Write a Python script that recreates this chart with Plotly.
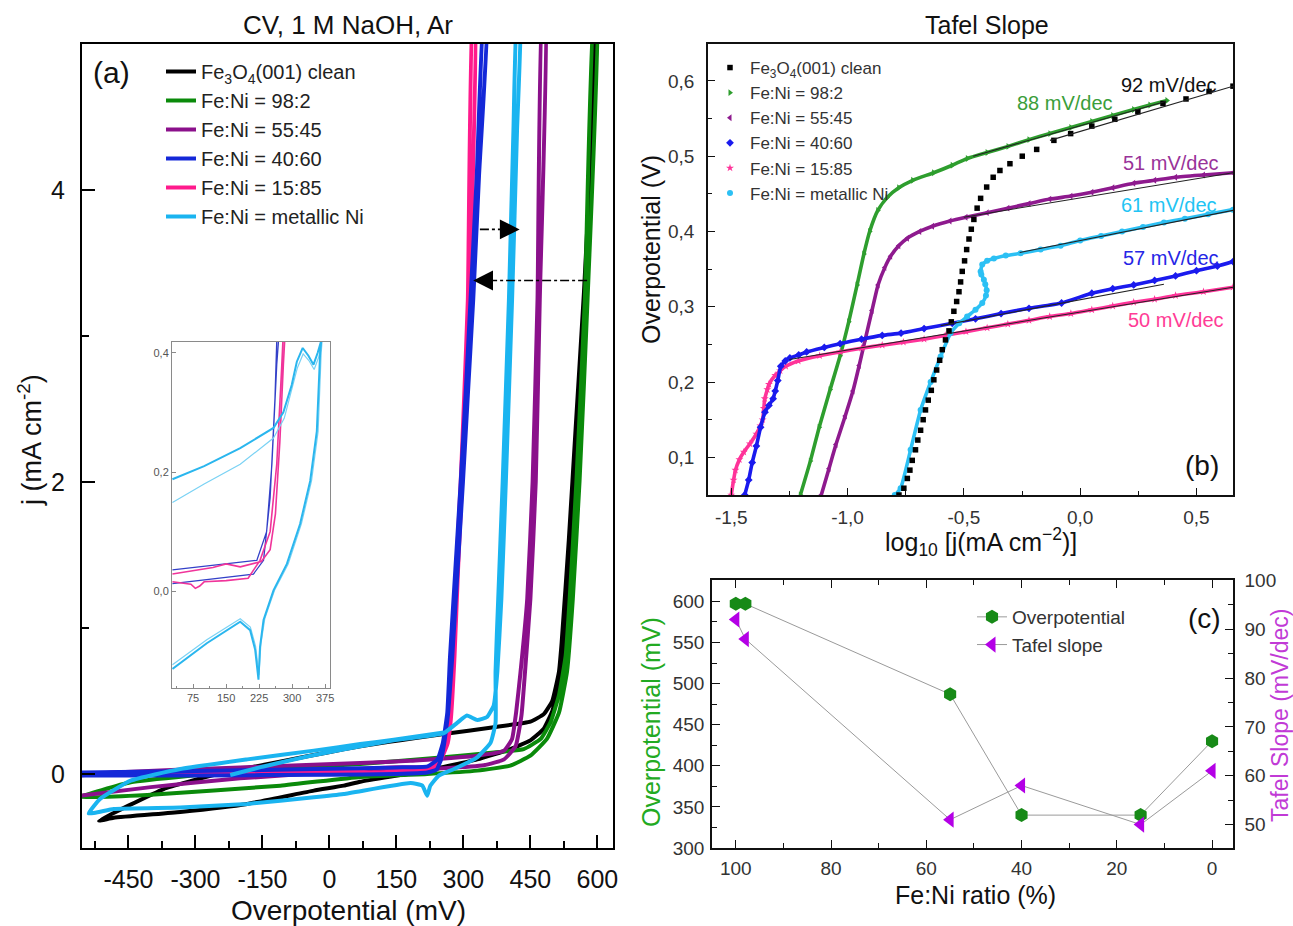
import plotly.graph_objects as go

W, H = 1293, 926
FONT = "Liberation Sans, Arial, sans-serif"

# ---------------- colours ----------------
C_BLACK = "#000000"
C_GREEN = "#0a8a0a"
C_PURPLE = "#8b108b"
C_BLUE = "#1428d8"
C_PINK = "#ff1a8c"
C_CYAN = "#1ab4f0"

# ---------------- Panel (a): CV loops (overpotential mV, j mA cm-2) ----------------
names = ["Fe<sub>3</sub>O<sub>4</sub>(001) clean", "Fe:Ni = 98:2", "Fe:Ni = 55:45",
         "Fe:Ni = 40:60", "Fe:Ni = 15:85", "Fe:Ni = metallic Ni"]

blk_x = [-516, -483, -334, -184, -35, 32, 69, 219, 331, 405, 450, 480, 499, 514, 525, 540, 555, 573, 590, 600,
         597, 588, 570, 552, 536, 520, 514, 499, 480, 450, 368, 256, 69, -259, -371, -450, -516]
blk_j = [-0.32, -0.30, -0.26, -0.205, -0.114, -0.08, -0.053, 0.023, 0.10, 0.17, 0.23, 0.31, 0.43, 0.63, 0.9, 1.6, 2.4, 3.3, 4.4, 5.3,
         5.3, 4.4, 3.3, 2.4, 1.6, 0.9, 0.70, 0.50, 0.41, 0.358, 0.32, 0.274, 0.19, -0.007, -0.103, -0.217, -0.32]

grn_x = [-560, -408, -110, 69, 219, 331, 405, 450, 487, 514, 532, 545, 560, 578, 600,
         594, 572, 553, 538, 529, 514, 495, 473, 435, 368, 256, 69, -184, -445, -560]
grn_j = [-0.16, -0.144, -0.08, -0.02, 0.0, 0.023, 0.057, 0.125, 0.24, 0.42, 0.70, 1.2, 2.0, 3.25, 5.3,
         5.3, 3.25, 2.0, 1.2, 0.81, 0.54, 0.354, 0.24, 0.17, 0.148, 0.114, 0.068, 0.023, -0.057, -0.16]

pur_x = [-560, -400, -200, 32, 256, 346, 391, 417, 430, 438, 450, 462, 471, 484,
         478, 466, 455, 443, 428, 418, 409, 391, 331, 181, 69, -200, -483, -560]
pur_j = [-0.15, -0.09, -0.03, 0.016, 0.04, 0.06, 0.10, 0.19, 0.40, 0.70, 1.2, 2.0, 3.25, 5.3,
         5.3, 3.25, 2.0, 1.2, 0.70, 0.42, 0.24, 0.16, 0.125, 0.09, 0.075, 0.045, 0.01, -0.01]

blu_x = [-560, -300, 0, 150, 219, 240, 250, 257, 262, 266, 275, 287, 299, 310, 322, 335, 354,
         348, 330, 316, 305, 294, 282, 270, 264, 254, 242, 220, 150, 0, -300, -560]
blu_j = [-0.01, -0.01, -0.005, 0.0, 0.01, 0.03, 0.10, 0.21, 0.32, 0.42, 0.8, 1.4, 2.0, 2.6, 3.25, 4.1, 5.3,
         5.3, 4.1, 3.25, 2.6, 2.0, 1.4, 0.8, 0.42, 0.213, 0.10, 0.052, 0.045, 0.035, 0.02, 0.01]

pnk_x = [-560, -300, 28, 87, 150, 227, 240, 250, 265, 272, 280, 288, 297, 306, 314, 326,
         322, 310, 302, 294, 284, 274, 267, 258, 245, 230, 150, 28, -300, -560]
pnk_j = [-0.005, 0.0, 0.016, 0.007, 0.018, 0.035, 0.06, 0.10, 0.213, 0.38, 0.8, 1.4, 2.0, 2.6, 3.25, 5.3,
         5.3, 3.25, 2.6, 2.0, 1.4, 0.8, 0.38, 0.2, 0.09, 0.05, 0.046, 0.029, 0.015, 0.005]

cyn_x = [-222, -150, -50, 69, 144, 256, 286, 308, 331, 353, 368, 376, 385, 395, 409, 420, 428,
         422, 412, 402, 388, 378, 372, 372, 361, 331, 279, 245, 226, 219, 208, 182, 32, -35, -184, -334,
         -483, -539, -513, -445, -334, -184, -35, 69, 144, 256]
cyn_j = [-0.007, 0.05, 0.12, 0.19, 0.23, 0.28, 0.35, 0.40, 0.37, 0.39, 0.47, 0.70, 1.2, 2.0, 3.25, 4.4, 5.3,
         5.3, 4.4, 3.25, 2.0, 1.2, 0.7, 0.35, 0.215, 0.114, 0.034, -0.011, -0.08, -0.149, -0.08, -0.062, -0.137,
         -0.16, -0.205, -0.23, -0.24, -0.27, -0.17, -0.046, 0.034, 0.10, 0.16, 0.205, 0.235, 0.285]

# arrows in panel (a): (tail x, head x, j)
arrow_tail_x = [337, 577]
arrow_head_x = [426, 322]
arrow_j = [3.73, 3.38]

a_xtick_vals = [-450, -300, -150, 0, 150, 300, 450, 600]
a_xtick_text = ["-450", "-300", "-150", "0", "150", "300", "450", "600"]
a_xminor = [-525, -375, -225, -75, 75, 225, 375, 525]
a_ytick_vals = [0, 2, 4]
a_ytick_text = ["0", "2", "4"]
a_yminor = [1, 3]

# ---------------- inset (zoom of panel a) ----------------
in_cyan1_x = [28, 100, 182, 257.6, 280, 299, 310.6, 324, 337, 348.5, 358, 366,
              363.6, 356, 341, 318, 288, 257.6, 235, 227, 223.5, 216, 204.5, 182, 106, 28]
in_cyan1_y = [0.188, 0.21, 0.24, 0.274, 0.30, 0.346, 0.385, 0.408, 0.395, 0.38, 0.40, 0.42,
              0.40, 0.268, 0.185, 0.113, 0.046, 0.0017, -0.048, -0.093, -0.148, -0.098, -0.065, -0.051, -0.087, -0.13]
in_cyan2_x = [28, 100, 182, 257.6, 282, 300, 312, 325, 338, 350, 360, 368,
              366, 359, 344, 321, 291, 260, 238, 229, 224.5, 217, 205, 182, 106, 28]
in_cyan2_y = [0.149, 0.18, 0.213, 0.257, 0.29, 0.34, 0.375, 0.398, 0.387, 0.372, 0.392, 0.42,
              0.40, 0.268, 0.185, 0.113, 0.046, 0.0017, -0.045, -0.088, -0.14, -0.092, -0.06, -0.046, -0.081, -0.123]
in_blue_x = [28, 212, 235, 250, 261, 265, 269, 265, 254, 242, 219.7, 28]
in_blue_y = [0.013, 0.029, 0.052, 0.157, 0.324, 0.42, 0.42, 0.38, 0.213, 0.10, 0.052, 0.036]
in_pink_x = [28, 70, 80, 90, 100, 150, 200, 227, 250, 265, 276.5, 279, 283, 280, 272, 262, 250, 230, 182, 150, 120, 28]
in_pink_y = [0.016, 0.012, 0.005, 0.009, 0.016, 0.018, 0.022, 0.052, 0.10, 0.213, 0.38, 0.42,
             0.42, 0.38, 0.25, 0.13, 0.07, 0.05, 0.041, 0.046, 0.04, 0.029]
in_xtick_vals = [75, 150, 225, 300, 375]
in_xtick_text = ["75", "150", "225", "300", "375"]
in_xminor = [37.5, 112.5, 187.5, 262.5, 337.5]
in_ytick_vals = [0.0, 0.2, 0.4]
in_ytick_text = ["0,0", "0,2", "0,4"]

# ---------------- Panel (b): Tafel (log10 j, overpotential V) ----------------
tb_blk_x = [-0.779, -0.758, -0.743, -0.732, -0.722, -0.708, -0.698, -0.686, -0.675, -0.665, -0.653, -0.640,
            -0.629, -0.617, -0.604, -0.593, -0.579, -0.564, -0.554, -0.543, -0.531, -0.521, -0.514, -0.507,
            -0.497, -0.488, -0.478, -0.468, -0.457, -0.443, -0.428, -0.402, -0.374, -0.345, -0.302, -0.249,
            -0.187, -0.113, -0.041, 0.05, 0.149, 0.248, 0.356, 0.455, 0.554, 0.657]
tb_blk_y = [0.050, 0.059, 0.072, 0.083, 0.096, 0.110, 0.123, 0.136, 0.150, 0.163, 0.176, 0.189,
            0.203, 0.216, 0.229, 0.243, 0.256, 0.268, 0.280, 0.294, 0.307, 0.320, 0.333, 0.347,
            0.361, 0.376, 0.390, 0.403, 0.416, 0.431, 0.444, 0.459, 0.472, 0.481, 0.490, 0.500,
            0.509, 0.521, 0.530, 0.540, 0.549, 0.559, 0.570, 0.576, 0.586, 0.593]

tb_grn_x = [-1.203, -1.16, -1.122, -1.075, -1.032, -0.995, -0.959, -0.93, -0.905, -0.87, -0.83, -0.78, -0.72,
            -0.63, -0.55, -0.485, -0.40, -0.31, -0.22, -0.13, -0.04, 0.05, 0.14, 0.23, 0.30, 0.373]
tb_grn_y = [0.050, 0.095, 0.140, 0.19, 0.235, 0.28, 0.329, 0.37, 0.400, 0.428, 0.445, 0.458, 0.468,
            0.478, 0.488, 0.497, 0.505, 0.513, 0.522, 0.530, 0.538, 0.546, 0.554, 0.562, 0.568, 0.574]

tb_pur_x = [-1.113, -1.08, -1.05, -1.01, -0.977, -0.95, -0.923, -0.895, -0.869, -0.84, -0.815, -0.78, -0.743,
            -0.69, -0.635, -0.56, -0.491, -0.40, -0.311, -0.22, -0.131, -0.04, 0.05, 0.14, 0.23, 0.32, 0.41, 0.53, 0.657]
tb_pur_y = [0.050, 0.085, 0.117, 0.155, 0.188, 0.222, 0.258, 0.295, 0.329, 0.352, 0.367, 0.381, 0.391,
            0.400, 0.407, 0.414, 0.419, 0.425, 0.431, 0.437, 0.443, 0.447, 0.452, 0.458, 0.464, 0.468, 0.472, 0.475, 0.478]

tb_blu_x = [-1.442, -1.425, -1.41, -1.392, -1.374, -1.355, -1.338, -1.32, -1.311, -1.30, -1.287, -1.268, -1.248,
            -1.21, -1.176, -1.10, -1.032, -0.94, -0.851, -0.77, -0.671, -0.55, -0.45, -0.34, -0.22, -0.08, 0.05,
            0.14, 0.23, 0.32, 0.41, 0.50, 0.59, 0.657]
tb_blu_y = [0.050, 0.07, 0.093, 0.115, 0.140, 0.16, 0.169, 0.178, 0.188, 0.202, 0.221, 0.228, 0.232,
            0.236, 0.240, 0.246, 0.251, 0.257, 0.262, 0.265, 0.271, 0.278, 0.284, 0.291, 0.298, 0.305, 0.318,
            0.324, 0.329, 0.335, 0.341, 0.348, 0.354, 0.360]

tb_pnk_x = [-1.50, -1.49, -1.482, -1.465, -1.446, -1.42, -1.392, -1.375, -1.365, -1.36, -1.356, -1.345, -1.338,
            -1.311, -1.29, -1.266, -1.212, -1.12, -1.032, -0.94, -0.851, -0.76, -0.671, -0.58, -0.491, -0.40,
            -0.311, -0.22, -0.131, -0.04, 0.05, 0.14, 0.23, 0.32, 0.41, 0.53, 0.657]
tb_pnk_y = [0.050, 0.07, 0.083, 0.097, 0.107, 0.118, 0.131, 0.142, 0.150, 0.165, 0.178, 0.19, 0.197,
            0.209, 0.215, 0.221, 0.228, 0.235, 0.240, 0.245, 0.249, 0.253, 0.257, 0.262, 0.267, 0.272,
            0.277, 0.282, 0.287, 0.291, 0.296, 0.301, 0.306, 0.310, 0.315, 0.320, 0.326]

tb_cyn_x = [-0.797, -0.772, -0.729, -0.686, -0.643, -0.60, -0.557, -0.52, -0.486, -0.45, -0.421, -0.405, -0.402,
            -0.408, -0.414, -0.425, -0.428, -0.421, -0.40, -0.371, -0.32, -0.256, -0.17, -0.084, 0.0, 0.09, 0.18,
            0.27, 0.36, 0.45, 0.55, 0.657]
tb_cyn_y = [0.050, 0.059, 0.11, 0.163, 0.20, 0.234, 0.265, 0.278, 0.287, 0.296, 0.305, 0.315, 0.322,
            0.33, 0.336, 0.343, 0.347, 0.356, 0.361, 0.364, 0.368, 0.371, 0.376, 0.381, 0.388, 0.394, 0.400,
            0.406, 0.412, 0.417, 0.423, 0.429]

# linear Tafel fits (end points) and their slopes
fit_x = [[-0.13, 0.657], [-0.46, 0.37], [-0.50, 0.657], [-0.26, 0.657], [-0.60, 0.36], [-1.25, 0.657]]
fit_y = [[0.521, 0.593], [0.500, 0.573], [0.419, 0.478], [0.372, 0.428], [0.275, 0.330], [0.230, 0.326]]
slope_text = ["92 mV/dec", "88 mV/dec", "51 mV/dec", "61 mV/dec", "57 mV/dec", "50 mV/dec"]
slope_x = [0.38, -0.066, 0.389, 0.38, 0.389, 0.41]
slope_y = [0.595, 0.571, 0.491, 0.435, 0.365, 0.282]
slope_col = ["#111111", "#3a9e3a", "#993399", "#22c4f4", "#2626e6", "#ff3c96"]

b_xtick_vals = [-1.5, -1.0, -0.5, 0.0, 0.5]
b_xtick_text = ["-1,5", "-1,0", "-0,5", "0,0", "0,5"]
b_xminor = [-1.25, -0.75, -0.25, 0.25]
b_ytick_vals = [0.1, 0.2, 0.3, 0.4, 0.5, 0.6]
b_ytick_text = ["0,1", "0,2", "0,3", "0,4", "0,5", "0,6"]
b_yminor = [0.15, 0.25, 0.35, 0.45, 0.55]

# ---------------- Panel (c) ----------------
ratio = [100, 98, 55, 40, 15, 0]
overpot_mV = [597, 597, 487, 340, 340, 430]
tafel_mVdec = [92, 88, 51, 58, 50, 61]
c_xtick_vals = [100, 80, 60, 40, 20, 0]
c_xminor = [90, 70, 50, 30, 10]
c_ytick_vals = [300, 350, 400, 450, 500, 550, 600]
c_yminor = [325, 375, 425, 475, 525, 575, 625]
c_y2tick_vals = [50, 60, 70, 80, 90, 100]
c_y2minor = [55, 65, 75, 85, 95]

fig = go.Figure()

# ---- panel (a) traces ----
a_series = [
    (blk_x, blk_j, C_BLACK, 0, 1),
    (grn_x, grn_j, C_GREEN, 1, 2),
    (pur_x, pur_j, C_PURPLE, 2, 3),
    (pnk_x, pnk_j, C_PINK, 4, 5),
    (blu_x, blu_j, C_BLUE, 3, 4),
    (cyn_x, cyn_j, C_CYAN, 5, 6),
]
for xs, ys, col, ni, rank in a_series:
    fig.add_trace(go.Scatter(x=xs, y=ys, mode="lines", name=names[ni],
                             line=dict(color=col, width=4, shape="spline", smoothing=0.4),
                             legend="legend", legendrank=rank, xaxis="x", yaxis="y"))

# ---- inset traces ----
fig.add_trace(go.Scatter(x=in_blue_x, y=in_blue_y, mode="lines", line=dict(color="#3340c8", width=1.3),
                         showlegend=False, xaxis="x5", yaxis="y5"))
fig.add_trace(go.Scatter(x=in_pink_x, y=in_pink_y, mode="lines", line=dict(color="#f0349a", width=1.6),
                         showlegend=False, xaxis="x5", yaxis="y5"))
fig.add_trace(go.Scatter(x=in_cyan2_x, y=in_cyan2_y, mode="lines", line=dict(color="#7ad2f4", width=1.2),
                         showlegend=False, xaxis="x5", yaxis="y5"))
fig.add_trace(go.Scatter(x=in_cyan1_x, y=in_cyan1_y, mode="lines", line=dict(color="#2ab6ee", width=2.0),
                         showlegend=False, xaxis="x5", yaxis="y5"))

# ---- panel (b) traces ----
b_series = [
    (tb_grn_x, tb_grn_y, "#2e9e2e", "triangle-right", 1, 2),
    (tb_pur_x, tb_pur_y, "#8e1a8e", "triangle-left", 2, 3),
    (tb_pnk_x, tb_pnk_y, "#ff3399", "star", 4, 5),
    (tb_blu_x, tb_blu_y, "#1a1aee", "diamond", 3, 4),
    (tb_cyn_x, tb_cyn_y, "#2cc0f4", "circle", 5, 6),
]
for xs, ys, col, sym, ni, rank in b_series:
    fig.add_trace(go.Scatter(x=xs, y=ys, mode="lines",
                             line=dict(color=col, width=3.6, shape="spline", smoothing=0.5),
                             showlegend=False, xaxis="x2", yaxis="y2"))
    fig.add_trace(go.Scatter(x=xs, y=ys, mode="markers", name=names[ni],
                             marker=dict(color=col, symbol=sym, size=6),
                             legend="legend2", legendrank=rank, xaxis="x2", yaxis="y2"))
fig.add_trace(go.Scatter(x=tb_blk_x, y=tb_blk_y, mode="markers", name=names[0],
                         marker=dict(color="#000000", symbol="square", size=5.5),
                         legend="legend2", legendrank=1, xaxis="x2", yaxis="y2"))
for fx, fy in zip(fit_x, fit_y):
    fig.add_trace(go.Scatter(x=fx, y=fy, mode="lines", line=dict(color="#222222", width=1.1),
                             showlegend=False, xaxis="x2", yaxis="y2"))

# ---- panel (c) traces ----
fig.add_trace(go.Scatter(x=ratio, y=overpot_mV, mode="lines+markers", name="Overpotential",
                         line=dict(color="#9a9a9a", width=1),
                         marker=dict(color="#178a17", symbol="hexagon", size=14),
                         legend="legend3", legendrank=1, xaxis="x3", yaxis="y3"))
fig.add_trace(go.Scatter(x=ratio, y=tafel_mVdec, mode="lines+markers", name="Tafel slope",
                         line=dict(color="#9a9a9a", width=1),
                         marker=dict(color="#b400e6", symbol="triangle-left", size=14),
                         legend="legend3", legendrank=2, xaxis="x3", yaxis="y4"))


def dx(p):
    return p / W


def dy(p):
    return 1 - p / H


tick_a = dict(showline=True, linecolor="black", linewidth=2, mirror=True, ticks="inside",
              tickcolor="black", tickwidth=2, showgrid=False, zeroline=False, automargin=False,
              tickfont=dict(family=FONT, size=25, color="#111111"))
tick_b = dict(showline=True, linecolor="#111111", linewidth=1.5, mirror=True, ticks="inside",
              tickcolor="#111111", tickwidth=1.3, showgrid=False, zeroline=False, automargin=False,
              tickfont=dict(family=FONT, size=19, color="#333333"))
tick_c = dict(showline=True, linecolor="#111111", linewidth=1.5, ticks="inside",
              tickcolor="#111111", tickwidth=1.3, showgrid=False, zeroline=False, automargin=False,
              tickfont=dict(family=FONT, size=19, color="#333333"))

layout = dict(
    width=W, height=H, autosize=False, margin=dict(l=0, r=0, t=0, b=0, pad=0, autoexpand=False),
    paper_bgcolor="white", plot_bgcolor="white", font=dict(family=FONT),
    # (a)
    xaxis=dict(**tick_a, domain=[dx(82), dx(613)], range=[-554, 635], anchor="y",
               tickmode="array", tickvals=a_xtick_vals, ticktext=a_xtick_text, ticklen=13,
               ticklabelstandoff=8,
               minor=dict(ticks="inside", tickmode="array", tickvals=a_xminor, ticklen=7,
                          tickwidth=2, tickcolor="black")),
    yaxis=dict(**tick_a, domain=[dy(848), dy(44)], range=[-0.507, 5.0], anchor="x",
               tickmode="array", tickvals=a_ytick_vals, ticktext=a_ytick_text, ticklen=13,
               ticklabelstandoff=10,
               minor=dict(ticks="inside", tickmode="array", tickvals=a_yminor, ticklen=7,
                          tickwidth=2, tickcolor="black")),
    # inset
    xaxis5=dict(domain=[dx(172), dx(330)], range=[27, 386], anchor="y5", showline=True,
                linecolor="#8a8a8a", linewidth=1, mirror=True, ticks="inside", ticklen=4,
                tickcolor="#8a8a8a", tickwidth=1, showgrid=False, zeroline=False, automargin=False,
                tickmode="array", tickvals=in_xtick_vals, ticktext=in_xtick_text,
                tickfont=dict(family=FONT, size=11, color="#555555"),
                minor=dict(ticks="inside", tickmode="array", tickvals=in_xminor, ticklen=2,
                           tickcolor="#8a8a8a")),
    yaxis5=dict(domain=[dy(688), dy(342)], range=[-0.162, 0.418], anchor="x5", showline=True,
                linecolor="#8a8a8a", linewidth=1, mirror=True, ticks="inside", ticklen=4,
                tickcolor="#8a8a8a", tickwidth=1, showgrid=False, zeroline=False, automargin=False,
                tickmode="array", tickvals=in_ytick_vals, ticktext=in_ytick_text,
                tickfont=dict(family=FONT, size=11, color="#555555")),
    # (b)
    xaxis2=dict(**tick_b, domain=[dx(708), dx(1233)], range=[-1.6, 0.657], anchor="y2",
                tickmode="array", tickvals=b_xtick_vals, ticktext=b_xtick_text, ticklen=7,
                ticklabelstandoff=4,
                minor=dict(ticks="inside", tickmode="array", tickvals=b_xminor, ticklen=4,
                           tickcolor="#111111")),
    yaxis2=dict(**tick_b, domain=[dy(495), dy(44)], range=[0.05, 0.649], anchor="x2",
                tickmode="array", tickvals=b_ytick_vals, ticktext=b_ytick_text, ticklen=7,
                ticklabelstandoff=8,
                minor=dict(ticks="inside", tickmode="array", tickvals=b_yminor, ticklen=4,
                           tickcolor="#111111")),
    # (c)
    xaxis3=dict(**tick_c, domain=[dx(712), dx(1233)], range=[105, -4.4], anchor="y3",
                mirror="ticks", tickmode="array", tickvals=c_xtick_vals, ticklen=8,
                ticklabelstandoff=2,
                minor=dict(ticks="inside", tickmode="array", tickvals=c_xminor, ticklen=5,
                           tickcolor="#111111")),
    yaxis3=dict(**tick_c, domain=[dy(848), dy(580)], range=[300, 626], anchor="x3",
                tickmode="array", tickvals=c_ytick_vals, ticklen=8, ticklabelstandoff=2,
                minor=dict(ticks="inside", tickmode="array", tickvals=c_yminor, ticklen=5,
                           tickcolor="#111111")),
    yaxis4=dict(**tick_c, overlaying="y3", side="right", range=[45.2, 100.1], anchor="x3",
                tickmode="array", tickvals=c_y2tick_vals, ticklen=8, ticklabelstandoff=6,
                minor=dict(ticks="inside", tickmode="array", tickvals=c_y2minor, ticklen=5,
                           tickcolor="#111111")),
    legend=dict(x=dx(161), y=dy(52), xanchor="left", yanchor="top", bgcolor="rgba(0,0,0,0)",
                font=dict(family=FONT, size=20, color="#222222"), tracegroupgap=0),
    legend2=dict(x=dx(710), y=dy(50), xanchor="left", yanchor="top", bgcolor="rgba(0,0,0,0)",
                 font=dict(family=FONT, size=17, color="#333333"), tracegroupgap=0),
    legend3=dict(x=dx(972), y=dy(598), xanchor="left", yanchor="top", bgcolor="rgba(0,0,0,0)",
                 font=dict(family=FONT, size=19, color="#333333"), tracegroupgap=0),
)
fig.update_layout(**layout)

# arrows in (a): dash-dot shaft + arrow head
for tx, hx, jj in zip(arrow_tail_x, arrow_head_x, arrow_j):
    direction = 1 if hx > tx else -1
    fig.add_shape(type="line", xref="x", yref="y", x0=tx, x1=hx - direction * 30, y0=jj, y1=jj,
                  line=dict(color="black", width=1.6, dash="dashdot"))
    fig.add_annotation(x=hx, y=jj, xref="x", yref="y", ax=hx - direction * 45, ay=jj,
                       axref="x", ayref="y", text="", showarrow=True, arrowhead=2,
                       arrowsize=2.2, arrowwidth=1.8, arrowcolor="black")

# slope labels (b)
for t, sx, sy, col in zip(slope_text, slope_x, slope_y, slope_col):
    fig.add_annotation(x=sx, y=sy, xref="x2", yref="y2", text=t, showarrow=False,
                       font=dict(family=FONT, size=20, color=col))


def label(text, px, py, size, color="#111111", angle=0):
    fig.add_annotation(x=dx(px), y=dy(py), xref="paper", yref="paper", text=text, showarrow=False,
                       textangle=angle, xanchor="center", yanchor="middle",
                       font=dict(family=FONT, size=size, color=color))


label("CV, 1 M NaOH, Ar", 348, 25, 26)
label("Overpotential (mV)", 348, 910, 28)
label("j (mA cm<sup>-2</sup>)", 30, 440, 27, angle=-90)
label("(a)", 111, 72, 30)
label("Tafel Slope", 987, 25, 25)
label("Overpotential (V)", 651, 250, 25, angle=-90)
label("log<sub>10</sub> [j(mA cm<sup>\u22122</sup>)]", 981, 542, 25)
label("(b)", 1202, 466, 28)
label("Fe:Ni ratio (%)", 975, 895, 25)
label("Overpotential (mV)", 651, 722, 25, color="#22aa22", angle=-90)
label("Tafel Slope (mV/dec)", 1280, 716, 23, color="#c13ad6", angle=-90)
label("(c)", 1204, 618, 28)

fig.write_html("out.html", config={"displayModeBar": False},
               post_script="document.body.style.margin='0';document.body.style.overflow='hidden';")
